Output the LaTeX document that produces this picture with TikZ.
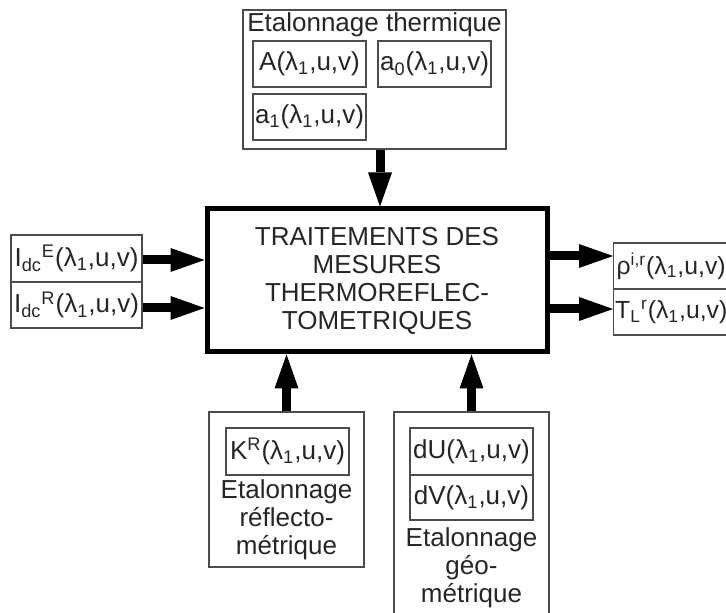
\documentclass[tikz,border=0pt]{standalone}
\usepackage{fontspec}
\setmainfont{Liberation Sans}
\usetikzlibrary{arrows.meta,positioning}

\begin{document}
\begin{tikzpicture}[
  x=0.5pt, y=-0.5pt,
  box/.style={rectangle, draw=black!70, line width=0.6pt, inner sep=0pt},
  val/.style={rectangle, draw=black!70, line width=0.6pt, inner sep=1pt, font=\fontsize{13}{14}\selectfont, text=black!85},
  txt/.style={align=center, inner sep=0pt, font=\fontsize{13}{14}\selectfont, text=black!85},
  arr/.style={line width=4.5pt, -{Triangle[length=17pt,width=12pt,line width=0pt]}}
]
\fill[white] (0,0) rectangle (726,613);
\useasboundingbox (0,0) rectangle (726,613);
\clip (0,0) rectangle (726,613);

% central block
\node[rectangle, draw, line width=2.5pt, minimum width=170pt, minimum height=71.5pt, align=center, font=\fontsize{13}{14}\selectfont, text=black!85] (main) at (377,280.5) {TRAITEMENTS DES\\MESURES\\THERMOREFLEC-\\TOMETRIQUES};

% thermal calibration
\node[box, minimum width=131.5pt, minimum height=69.5pt] (therm) at (374.5,79.5) {};
\node[txt] (thermT) at (374.5,25) {Etalonnage thermique};
\node[val, minimum width=56.5pt, minimum height=23pt] (A) at (309.5,64) {A(λ\textsubscript{1},u,v)};
\node[val, minimum width=56.5pt, minimum height=23pt] (azero) at (434.5,64) {a\textsubscript{0}(λ\textsubscript{1},u,v)};
\node[val, minimum width=56.5pt, minimum height=23pt] (aone) at (309.5,117) {a\textsubscript{1}(λ\textsubscript{1},u,v)};

% inputs
\node[val, minimum width=65.5pt, minimum height=23.5pt] (idcE) at (76.5,258.5) {I\textsubscript{dc}\textsuperscript{E}(λ\textsubscript{1},u,v)};
\node[val, minimum width=65.5pt, minimum height=23pt] (idcR) at (76.5,305) {I\textsubscript{dc}\textsuperscript{R}(λ\textsubscript{1},u,v)};

% outputs
\node[val, anchor=west, inner sep=0.8pt, minimum width=57.5pt, minimum height=23pt, font=\fontsize{12.4}{14}\selectfont] (rho) at (613,266) {ρ\textsuperscript{i,r}(λ\textsubscript{1},u,v)};
\node[val, anchor=west, inner sep=0.8pt, minimum width=57.5pt, minimum height=23pt, font=\fontsize{12.4}{14}\selectfont] (TL) at (613,312) {T\textsubscript{L}\textsuperscript{r}(λ\textsubscript{1},u,v)};

% reflectometric calibration
\node[box, minimum width=77.5pt, minimum height=77.5pt] (refl) at (286.5,489.5) {};
\node[val, minimum width=61.5pt, minimum height=23.5pt] (K) at (287.5,451.5) {K\textsuperscript{R}(λ\textsubscript{1},u,v)};
\node[txt] (reflT) at (286.5,520) {Etalonnage\\réflecto-\\métrique};

% geometric calibration
\node[box, minimum width=77.5pt, minimum height=102pt] (geo) at (471.5,514) {};
\node[val, minimum width=61.5pt, minimum height=23.5pt] (dU) at (471.5,451.5) {dU(λ\textsubscript{1},u,v)};
\node[val, minimum width=61.5pt, minimum height=22.5pt] (dV) at (471.5,497.5) {dV(λ\textsubscript{1},u,v)};
\node[txt] (geoT) at (471.5,568) {Etalonnage\\géo-\\métrique};

% arrows
\draw[arr] ([xshift=2.75pt]therm.south) -- ([xshift=2.75pt]therm.south |- main.north);
\draw[arr] ([yshift=-0.75pt]idcE.east) -- ([yshift=-0.75pt]idcE.east -| main.west);
\draw[arr] ([yshift=-1.5pt]idcR.east) -- ([yshift=-1.5pt]idcR.east -| main.west);
\draw[arr] ([yshift=5pt]rho.west -| main.east) -- ([yshift=5pt]rho.west);
\draw[arr] ([yshift=1.5pt]TL.west -| main.east) -- ([yshift=1.5pt]TL.west);
\draw[arr] (refl.north) -- (refl.north |- main.south);
\draw[arr] (geo.north) -- (geo.north |- main.south);
\end{tikzpicture}
\end{document}
